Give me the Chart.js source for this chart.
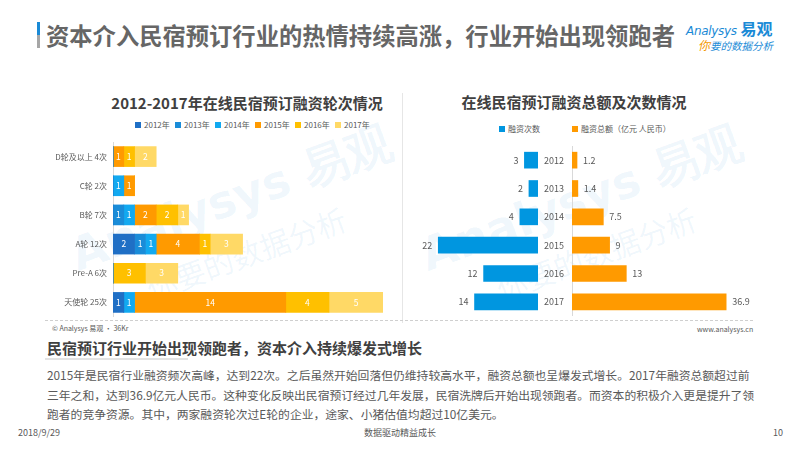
<!DOCTYPE html>
<html>
<head>
<meta charset="utf-8">
<script src="https://cdn.jsdelivr.net/npm/chart.js@4/dist/chart.umd.min.js"></script>
<style>
  body { margin: 0; width: 800px; height: 450px; position: relative; overflow: hidden; background: #fff;
         font-family: "Noto Sans CJK SC", "Noto Sans", sans-serif; }
  .abs { position: absolute; white-space: nowrap; }
  .box { position: absolute; }
  .wm { position: absolute; white-space: nowrap; color: rgba(20, 140, 215, 0.07); font-weight: bold; transform-origin: left top; }
  .lg { position: absolute; font-size: 8px; color: #595959; line-height: 10px; white-space: nowrap; }
  .lg i { display: inline-block; width: 6px; height: 6px; margin-right: 3px; vertical-align: 0px; }
</style>
</head>
<body>

<!-- header -->
<div class="box" style="left:37px;top:22px;width:3px;height:26px;background:linear-gradient(#1a8ad6 50%, #a6a6a6 50%);"></div>
<div class="abs" style="left:46px;top:19px;font-size:23.3px;font-weight:bold;color:#666;line-height:32px;">资本介入民宿预订行业的热情持续高涨，行业开始出现领跑者</div>
<div class="abs" style="left:686px;top:19px;line-height:18px;color:#1a8ad6;"><span style="font-family:'DejaVu Sans';font-size:12px;font-style:italic;letter-spacing:-0.3px;">Analysys</span> <span style="font-size:16px;font-weight:bold;">易观</span></div>
<div class="abs" style="left:698px;top:38px;font-size:10.5px;font-style:italic;color:#1a8ad6;line-height:14px;"><span style="color:#f39800;font-size:12px;">你</span>要的数据分析</div>

<!-- watermarks -->
<div class="wm" style="left:62px;top:228px;transform:rotate(-20deg);font-size:46px;font-family:'DejaVu Sans';">Analysys 易观</div>
<div class="wm" style="left:140px;top:268px;transform:rotate(-20deg);font-size:30px;font-weight:normal;">你要的数据分析</div>
<div class="wm" style="left:412px;top:228px;transform:rotate(-20deg);font-size:46px;font-family:'DejaVu Sans';">Analysys 易观</div>
<div class="wm" style="left:490px;top:268px;transform:rotate(-20deg);font-size:30px;font-weight:normal;">你要的数据分析</div>

<!-- chart titles -->
<div class="abs" style="left:247px;top:92px;transform:translateX(-50%);font-size:15px;font-weight:bold;color:#404040;line-height:22px;">2012-2017年在线民宿预订融资轮次情况</div>
<div class="abs" style="left:574px;top:91px;transform:translateX(-50%);font-size:15px;font-weight:bold;color:#404040;line-height:22px;">在线民宿预订融资总额及次数情况</div>

<div id="legend-left"></div>
<div class="lg" style="left:499px;top:124px;"><i style="background:#0096e0"></i>融资次数</div>
<div class="lg" style="left:572px;top:124px;"><i style="background:#ff9a00"></i>融资总额（亿元 人民币）</div>

<div class="box" style="left:402px;top:93px;width:1px;height:230px;background:#e6e6e6;"></div>

<div class="box" style="left:0px;top:142px;width:390px;height:175px;"><canvas id="chart-rounds"></canvas></div>
<div class="box" style="left:402px;top:146px;width:136px;height:170px;"><canvas id="chart-count"></canvas></div>
<div class="box" style="left:538px;top:146px;width:222px;height:170px;"><canvas id="chart-amount"></canvas></div>

<!-- footer of charts -->
<div class="box" style="left:45px;top:320px;width:708px;height:0;border-top:1px dashed #cfcfcf;"></div>
<div class="abs" style="left:52px;top:323px;font-size:7px;color:#595959;line-height:10px;">© Analysys 易观 · 36Kr</div>
<div class="abs" style="left:697px;top:324px;font-size:7px;color:#595959;line-height:10px;">www.analysys.cn</div>

<!-- text block -->
<div class="abs" style="left:47px;top:338px;font-size:15px;font-weight:bold;color:#404040;line-height:20px;">民宿预订行业开始出现领跑者，资本介入持续爆发式增长</div>
<div class="box" style="left:45px;top:358px;width:143px;height:2px;background:#e3e3e3;"></div>
<div class="abs" style="left:47px;top:365px;font-size:11.8px;color:#595959;line-height:19.5px;">2015年是民宿行业融资频次高峰，达到22次。之后虽然开始回落但仍维持较高水平，融资总额也呈爆发式增长。2017年融资总额超过前<br>三年之和，达到36.9亿元人民币。这种变化反映出民宿预订经过几年发展，民宿洗牌后开始出现领跑者。而资本的积极介入更是提升了领<br>跑者的竞争资源。其中，两家融资轮次过E轮的企业，途家、小猪估值均超过10亿美元。</div>

<div class="abs" style="left:18px;top:427px;font-size:9px;color:#595959;line-height:12px;">2018/9/29</div>
<div class="abs" style="left:364px;top:427px;font-size:9px;color:#595959;line-height:12px;">数据驱动精益成长</div>
<div class="abs" style="left:773px;top:427px;font-size:9px;color:#595959;line-height:12px;">10</div>

<script>
// ── data: funding rounds by year ─────────────────────────
const roundLabels = ['D轮及以上 4次', 'C轮 2次', 'B轮 7次', 'A轮 12次', 'Pre-A 6次', '天使轮 25次'];
const yearNames = ['2012年', '2013年', '2014年', '2015年', '2016年', '2017年'];
const rounds2012 = [0, 0, 0, 2, 0, 1];
const rounds2013 = [0, 0, 1, 1, 0, 0];
const rounds2014 = [0, 1, 1, 1, 0, 1];
const rounds2015 = [1, 1, 2, 4, 0, 14];
const rounds2016 = [1, 0, 2, 1, 3, 4];
const rounds2017 = [2, 0, 1, 3, 3, 5];
const yearColors = ['#1f6fc5', '#1a8cd8', '#12a9f0', '#ff9a00', '#ffc000', '#ffd966'];

// ── data: totals per year ────────────────────────────────
const years = ['2012', '2013', '2014', '2015', '2016', '2017'];
const dealCounts = [3, 2, 4, 22, 12, 14];
const dealAmounts = [1.2, 1.4, 7.5, 9, 13, 36.9];

const FONT = '"Noto Sans CJK SC", "Noto Sans", sans-serif';
const TEXT = '#595959';
const AXIS = '#d9d9d9';

// legend for left chart
(function () {
  const host = document.getElementById('legend-left');
  yearNames.forEach((n, i) => {
    const d = document.createElement('div');
    d.className = 'lg';
    d.style.left = (135 + i * 40) + 'px';
    d.style.top = '120px';
    d.innerHTML = '<i style="background:' + yearColors[i] + '"></i>' + n;
    host.appendChild(d);
  });
})();

// value labels drawn from the bar elements
const valueLabels = {
  id: 'valueLabels',
  afterDatasetsDraw(chart, args, opts) {
    const ctx = chart.ctx;
    ctx.save();
    ctx.font = (opts.size || 9) + 'px ' + FONT;
    ctx.textBaseline = 'middle';
    chart.data.datasets.forEach((ds, di) => {
      chart.getDatasetMeta(di).data.forEach((bar, i) => {
        const v = ds.data[i];
        if (!v) return;
        if (opts.mode === 'inside') {
          ctx.fillStyle = '#fff';
          ctx.textAlign = 'center';
          ctx.fillText(v, (bar.x + bar.base) / 2, bar.y);
        } else if (opts.mode === 'before') {
          ctx.fillStyle = TEXT;
          ctx.textAlign = 'right';
          ctx.fillText(v, bar.x - 6, bar.y);
        } else {
          ctx.fillStyle = TEXT;
          ctx.textAlign = 'left';
          ctx.fillText(v, bar.x + 6, bar.y);
        }
      });
    });
    ctx.restore();
  }
};

// fixed axis width, no extra label padding above/below the rows
function fixAxis(width) {
  return s => { s.width = width; s.paddingTop = 0; s.paddingBottom = 0; };
}

const base = {
  responsive: true,
  maintainAspectRatio: false,
  animation: false,
  indexAxis: 'y',
  plugins: { legend: { display: false }, tooltip: { enabled: false } },
};

// ── stacked rounds chart ─────────────────────────────────
const roundSeries = [rounds2012, rounds2013, rounds2014, rounds2015, rounds2016, rounds2017];
new Chart(document.getElementById('chart-rounds'), {
  type: 'bar',
  data: {
    labels: roundLabels,
    datasets: roundSeries.map((d, i) => ({
      label: yearNames[i],
      data: d,
      backgroundColor: yearColors[i],
      borderWidth: 0,
      barThickness: 20,
    })),
  },
  options: {
    ...base,
    layout: { padding: { right: 7, top: 0, bottom: 0, left: 0 } },
    plugins: { ...base.plugins, valueLabels: { mode: 'inside', size: 8.5 } },
    scales: {
      x: { stacked: true, min: 0, max: 25, display: false },
      y: {
        stacked: true,
        grid: { display: false, drawTicks: false },
        border: { color: AXIS },
        ticks: { color: TEXT, font: { family: FONT, size: 8 }, padding: 6 },
        afterFit: fixAxis(113),
      },
    },
  },
  plugins: [valueLabels],
});

// ── deal count (mirrored) ────────────────────────────────
new Chart(document.getElementById('chart-count'), {
  type: 'bar',
  data: {
    labels: years,
    datasets: [{ label: '融资次数', data: dealCounts, backgroundColor: '#0096e0', borderWidth: 0, barThickness: 16 }],
  },
  options: {
    ...base,
    layout: { padding: 0 },
    plugins: { ...base.plugins, valueLabels: { mode: 'before', size: 9 } },
    scales: {
      x: { min: 0, max: 30, reverse: true, display: false },
      y: {
        position: 'right',
        grid: { display: false, drawTicks: false },
        border: { color: AXIS },
        ticks: { display: false },
        afterFit: fixAxis(0),
      },
    },
  },
  plugins: [valueLabels],
});

// ── deal amount ──────────────────────────────────────────
new Chart(document.getElementById('chart-amount'), {
  type: 'bar',
  data: {
    labels: years,
    datasets: [{ label: '融资总额（亿元 人民币）', data: dealAmounts, backgroundColor: '#ff9a00', borderWidth: 0, barThickness: 16 }],
  },
  options: {
    ...base,
    layout: { padding: 0 },
    plugins: { ...base.plugins, valueLabels: { mode: 'after', size: 9 } },
    scales: {
      x: { min: 0, max: 45, display: false },
      y: {
        grid: { display: false, drawTicks: false },
        border: { color: AXIS },
        ticks: { color: TEXT, font: { family: FONT, size: 9 }, padding: 8 },
        afterFit: fixAxis(34),
      },
    },
  },
  plugins: [valueLabels],
});
</script>
</body>
</html>
